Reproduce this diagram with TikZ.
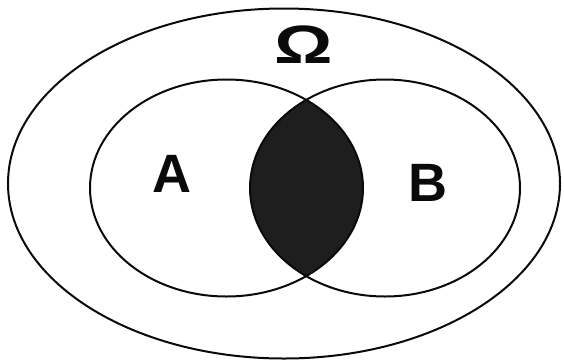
\documentclass[tikz,border=0pt]{standalone}
\usepackage{fontspec}
\setmainfont{Liberation Sans}
\usepackage{xcolor}
\usetikzlibrary{positioning}
\definecolor{ink}{HTML}{0A0A0A}
\definecolor{lens}{HTML}{1E1E1E}

\begin{document}
\begin{tikzpicture}[
  x=1pt, y=-1pt,
  set/.style={draw=ink, line width=2pt},
  setlabel/.style={font=\fontsize{54}{54}\selectfont\bfseries, text=ink, inner sep=0pt}
]
  \useasboundingbox (0,0) rectangle (564,362);
  \coordinate (omega) at (284,183.5);
  \coordinate (ca) at (226.5,188);
  \coordinate (cb) at (385,188);
  % shaded intersection
  \begin{scope}
    \clip (ca) ellipse [x radius=136.5, y radius=108.5];
    \fill[lens] (cb) ellipse [x radius=135, y radius=108.5];
  \end{scope}
  \draw[set] (omega) ellipse [x radius=276, y radius=175];
  \draw[set] (ca) ellipse [x radius=136.5, y radius=108.5];
  \draw[set] (cb) ellipse [x radius=135, y radius=108.5];
  \node[setlabel, xscale=1.35] (om) at (304,45) {Ω};
  \node[setlabel] (la) at (172,174) {A};
  \node[setlabel] (lb) at (428,183) {B};
\end{tikzpicture}
\end{document}
